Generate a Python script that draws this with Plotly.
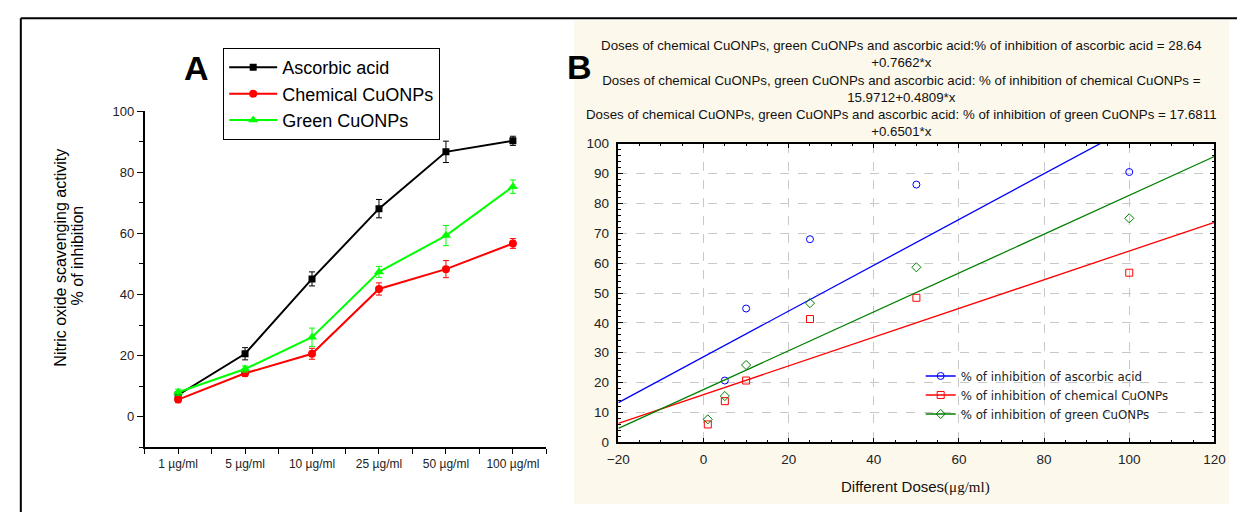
import plotly.graph_objects as go

W, H = 1248, 520

# ---------------- data ----------------
categories = ["1 µg/ml", "5 µg/ml", "10 µg/ml", "25 µg/ml", "50 µg/ml", "100 µg/ml"]
doses = [1, 5, 10, 25, 50, 100]

ascorbic = [7.1, 20.6, 45.1, 68.1, 86.7, 90.3]
ascorbic_err = [1.0, 2.0, 2.3, 3.0, 3.5, 1.5]
chemical = [5.6, 14.2, 20.6, 41.8, 48.3, 56.7]
chemical_err = [1.0, 1.0, 1.8, 2.0, 2.8, 1.6]
green = [8.0, 15.6, 26.0, 47.4, 59.3, 75.3]
green_err = [1.0, 1.0, 3.0, 1.8, 3.3, 2.2]

# panel B: points shown (ascorbic point at 1 µg/ml not visible in B)
b_ascorbic_doses = [5, 10, 25, 50, 100]
b_ascorbic = [20.7, 44.8, 68.0, 86.3, 90.5]
b_chemical = [6.0, 13.8, 20.7, 41.3, 48.4, 56.8]
b_green = [7.7, 15.5, 25.9, 46.6, 58.6, 75.0]

# regression coefficients (intercept, slope)
fit_names = ["% of inhibition of ascorbic acid", "% of inhibition of chemical CuONPs",
             "% of inhibition of green CuONPs"]
fit_intercepts = [28.64, 15.9712, 17.6811]
fit_slopes = [0.7662, 0.4809, 0.6501]
fit_x_range = [-20, 120]

eq_lines = [
    "Doses of chemical CuONPs, green CuONPs and ascorbic acid:% of inhibition of ascorbic acid = 28.64",
    "+0.7662*x",
    "Doses of chemical CuONPs, green CuONPs and ascorbic acid: % of inhibition of chemical CuONPs =",
    "15.9712+0.4809*x",
    "Doses of chemical CuONPs, green CuONPs and ascorbic acid: % of inhibition of green CuONPs = 17.6811",
    "+0.6501*x",
]

FONT = "Liberation Sans, Arial, sans-serif"


def fx(p):
    return p / W


def fy(p):
    return 1 - p / H


fig = go.Figure()
pos = list(range(len(categories)))

# ---------------- panel A ----------------
seriesA = [
    ("Ascorbic acid", ascorbic, ascorbic_err, "#000000", "square", 7),
    ("Chemical CuONPs", chemical, chemical_err, "#FF0000", "circle", 8),
    ("Green CuONPs", green, green_err, "#00FF00", "triangle-up", 9),
]
for name, vals, errs, col, sym, sz in seriesA:
    fig.add_trace(go.Scatter(
        x=pos, y=vals, name=name, mode="lines+markers",
        line=dict(color=col, width=2),
        marker=dict(symbol=sym, size=sz, color=col),
        error_y=dict(type="data", array=errs, visible=True, color=col, thickness=1, width=3),
        xaxis="x", yaxis="y", legend="legend",
    ))

# ---------------- panel B ----------------
fit_colors = ["#0000FF", "#FF0000", "#008000"]
fit_symbols = ["circle-open", "square-open", "diamond-open"]
pts = [(b_ascorbic_doses, b_ascorbic), (doses, b_chemical), (doses, b_green)]
for i in range(3):
    xs, ys = pts[i]
    fig.add_trace(go.Scatter(
        x=xs, y=ys, mode="markers", showlegend=False,
        marker=dict(symbol=fit_symbols[i], size=7, color=fit_colors[i], line=dict(width=1)),
        xaxis="x2", yaxis="y2",
    ))
    fy_vals = [fit_intercepts[i] + fit_slopes[i] * x for x in fit_x_range]
    fig.add_trace(go.Scatter(
        x=fit_x_range, y=fy_vals, mode="lines", showlegend=False,
        line=dict(color=fit_colors[i], width=1.3),
        xaxis="x2", yaxis="y2",
    ))
for i in range(3):
    fig.add_trace(go.Scatter(
        x=[None], y=[None], mode="lines+markers", name=fit_names[i],
        line=dict(color=fit_colors[i], width=1.3),
        marker=dict(symbol=fit_symbols[i], size=7, color=fit_colors[i], line=dict(width=1)),
        xaxis="x2", yaxis="y2", legend="legend2",
    ))

tickfont = dict(family=FONT, size=13, color="#222222")
tickfontB = dict(family=FONT, size=13.5, color="#222222")

fig.update_layout(
    width=W, height=H, margin=dict(l=0, r=0, t=0, b=0),
    paper_bgcolor="white", plot_bgcolor="rgba(0,0,0,0)",
    font=dict(family=FONT, color="#000000"),
    xaxis=dict(
        domain=[fx(136), fx(545)], anchor="y", range=[-0.5, 5.5],
        tickmode="array", tickvals=pos, ticktext=categories,
        ticks="outside", ticklen=5, tickwidth=1, tickcolor="black",
        minor=dict(tickmode="linear", tick0=-0.5, dtick=1, ticks="outside", ticklen=5,
                   tickcolor="black", showgrid=False),
        showline=True, linecolor="black", linewidth=1.5, showgrid=False, zeroline=False,
        tickfont=dict(family=FONT, size=12, color="#222222"),
    ),
    yaxis=dict(
        domain=[fy(453.3), fy(107.3)], anchor="x", range=[-10, 100],
        tick0=0, dtick=20, ticks="outside", ticklen=6, tickwidth=1, tickcolor="black",
        minor=dict(dtick=10, tick0=0, ticks="outside", ticklen=4, tickcolor="black", showgrid=False),
        showline=True, linecolor="black", linewidth=1.5, showgrid=False, zeroline=False,
        tickfont=tickfont,
    ),
    xaxis2=dict(
        domain=[fx(618.3), fx(1225)], anchor="y2", range=[-20, 120],
        tick0=0, dtick=20, ticks="inside", ticklen=5, tickcolor="black",
        minor=dict(dtick=5, tick0=0, ticks="inside", ticklen=3, tickcolor="black", showgrid=False),
        showline=True, linecolor="black", linewidth=1.5, mirror="ticks",
        showgrid=True, gridcolor="#C8C8C8", griddash="dash", gridwidth=1, zeroline=False,
        tickfont=tickfontB, ticklabelstandoff=4,
    ),
    yaxis2=dict(
        domain=[fy(448.3), fy(140.7)], anchor="x2", range=[0, 100],
        tick0=0, dtick=10, ticks="inside", ticklen=5, tickcolor="black",
        minor=dict(dtick=2, tick0=0, ticks="inside", ticklen=3, tickcolor="black", showgrid=False),
        showline=True, linecolor="black", linewidth=1.5, mirror="ticks",
        showgrid=True, gridcolor="#C8C8C8", griddash="dash", gridwidth=1, zeroline=False,
        tickfont=tickfontB, ticklabelstandoff=5,
    ),
    legend=dict(
        x=fx(216), y=fy(42.3), xanchor="left", yanchor="top",
        bgcolor="white", bordercolor="black", borderwidth=1, itemwidth=48,
        font=dict(family=FONT, size=18, color="#000000"), tracegroupgap=0,
    ),
    legend2=dict(
        x=fx(926), y=fy(399.5), xanchor="left", yanchor="middle",
        bgcolor="rgba(0,0,0,0)", borderwidth=0,
        font=dict(family="DejaVu Sans, " + FONT, size=11.8, color="#222222"), tracegroupgap=0,
    ),
)

shapes = [
    # beige panel of B
    dict(type="rect", xref="paper", yref="paper", x0=fx(573), x1=fx(1240), y0=fy(512), y1=fy(14),
         fillcolor="#FCF8EC", line=dict(width=0), layer="below"),
    # white plot area of B
    dict(type="rect", xref="x2 domain", yref="y2 domain", x0=0, x1=1, y0=0, y1=1,
         fillcolor="white", line=dict(width=0), layer="below"),
    # outer frame (top and left edges)
    dict(type="line", xref="paper", yref="paper", x0=fx(10), x1=1, y0=fy(11.5), y1=fy(11.5),
         line=dict(color="black", width=2)),
    dict(type="line", xref="paper", yref="paper", x0=fx(10), x1=fx(10), y0=0, y1=fy(11.5),
         line=dict(color="black", width=2)),
]
fig.update_layout(shapes=shapes)

ann = [
    dict(text="<b>A</b>", x=fx(189), y=fy(63), font=dict(family=FONT, size=34, color="black")),
    dict(text="<b>B</b>", x=fx(579), y=fy(62),
         font=dict(family="Liberation Sans Narrow, " + FONT, size=34, color="black")),
    dict(text="Nitric oxide scavenging activity", x=fx(50), y=fy(258), textangle=-90,
         font=dict(family=FONT, size=16, color="black")),
    dict(text="% of inhibition", x=fx(68), y=fy(256), textangle=-90,
         font=dict(family=FONT, size=16, color="black")),
    dict(text="<br>".join(eq_lines), x=fx(906.5), y=fy(84),
         font=dict(family=FONT, size=13.3, color="#111111")),
    dict(text="Different Doses<span style='font-family:Liberation Serif, Times New Roman, serif'>(μg/ml)</span>",
         x=fx(921), y=fy(494), font=dict(family=FONT, size=15, color="#111111")),
]
for a in ann:
    a.update(xref="paper", yref="paper", xanchor="center", yanchor="middle", showarrow=False)
fig.update_layout(annotations=ann)

fig.write_html("out.html")
